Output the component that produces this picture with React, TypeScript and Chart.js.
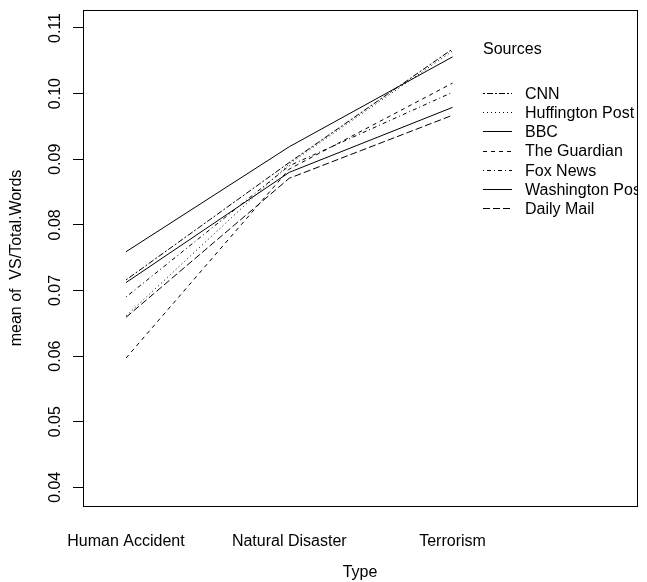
import React, { useEffect, useRef } from 'react';
import { Chart, registerables } from 'chart.js';

Chart.register(...registerables);

// ---- data ----
const categories = ['Human Accident', 'Natural Disaster', 'Terrorism'];
const categoryPositions = [1, 2, 3];
const sources = ['CNN', 'Huffington Post', 'BBC', 'The Guardian', 'Fox News', 'Washington Post', 'Daily Mail'];

const cnn = [0.0716, 0.0895, 0.1068];
const huffingtonPost = [0.0661, 0.0893, 0.1065];
const bbc = [0.0759, 0.0919, 0.1056];
const theGuardian = [0.0597, 0.0885, 0.1016];
const foxNews = [0.069, 0.089, 0.1002];
const washingtonPost = [0.0712, 0.088, 0.0979];
const dailyMail = [0.0659, 0.0871, 0.0967];

const yTickValues = [0.04, 0.05, 0.06, 0.07, 0.08, 0.09, 0.1, 0.11];
const yTickLabels = ['0.04', '0.05', '0.06', '0.07', '0.08', '0.09', '0.10', '0.11'];

const xTitle = 'Type';
const yTitle = 'mean of  VS/Total.Words';
const legendTitle = 'Sources';

// ---- styles ----
const seriesValues = [cnn, huffingtonPost, bbc, theGuardian, foxNews, washingtonPost, dailyMail];
const dashPatterns = [[2, 2, 6, 2], [1, 3], [], [4, 4], [1, 3, 4, 3], [], [7, 3]];

const FONT_FAMILY = "'Liberation Sans', Arial, Helvetica, sans-serif";
const font = { family: FONT_FAMILY, size: 16, lineHeight: 1.2 };

const boxAndLegend = {
  id: 'boxAndLegend',
  afterDatasetsDraw(chart: any) {
    const { ctx, chartArea } = chart;
    ctx.save();
    // legend (clipped to plot region, like R)
    ctx.save();
    ctx.beginPath();
    ctx.rect(chartArea.left, chartArea.top, chartArea.right - chartArea.left, chartArea.bottom - chartArea.top);
    ctx.clip();
    ctx.strokeStyle = '#000';
    ctx.lineWidth = 1;
    ctx.fillStyle = '#000';
    ctx.font = `16px ${FONT_FAMILY}`;
    ctx.textBaseline = 'alphabetic';
    ctx.textAlign = 'left';
    const lx = 483;
    ctx.fillText(legendTitle, lx, 54);
    chart.data.datasets.forEach((ds: any, i: number) => {
      const base = 98.7 + i * 19.2;
      const ly = Math.round(base - 5.7) + 0.5;
      ctx.beginPath();
      ctx.setLineDash(ds.borderDash || []);
      ctx.moveTo(lx, ly);
      ctx.lineTo(lx + 29, ly);
      ctx.stroke();
      ctx.setLineDash([]);
      ctx.fillText(ds.label, 525, base);
    });
    ctx.restore();

    // plot box
    ctx.strokeStyle = '#000';
    ctx.lineWidth = 1;
    ctx.setLineDash([]);
    ctx.strokeRect(chartArea.left + 0.5, chartArea.top + 0.5, chartArea.right - chartArea.left, chartArea.bottom - chartArea.top);
    ctx.restore();
  },
};

export default function App() {
  const ref = useRef<HTMLCanvasElement | null>(null);

  useEffect(() => {
    if (!ref.current) return;
    const datasets = sources.map((name, i) => ({
      label: name,
      data: categoryPositions.map((x, j) => ({ x, y: seriesValues[i][j] })),
      borderColor: '#000',
      backgroundColor: '#000',
      borderWidth: 1,
      borderDash: dashPatterns[i],
      pointRadius: 0,
      tension: 0,
      fill: false,
    }));

    const chart = new Chart(ref.current, {
      type: 'line',
      data: { datasets },
      plugins: [boxAndLegend],
      options: {
        responsive: false,
        animation: false,
        devicePixelRatio: 1,
        layout: { padding: { top: 10, right: 10, left: 0, bottom: 0 } },
        plugins: { legend: { display: false }, tooltip: { enabled: false } },
        scales: {
          x: {
            type: 'linear',
            min: 0.7366,
            max: 4.130,
            afterBuildTicks: (s: any) => {
              s.ticks = categoryPositions.map((v) => ({ value: v }));
            },
            ticks: {
              callback: (v: any) => categories[Math.round(Number(v)) - 1],
              font,
              color: '#000',
              padding: 18,
              autoSkip: false,
              maxRotation: 0,
              minRotation: 0,
            },
            grid: { display: false },
            border: { display: false },
            title: { display: true, text: xTitle, font, color: '#000', padding: 0 },
            afterFit: (s: any) => {
              s.height = 76;
              s.paddingLeft = 0;
              s.paddingRight = 0;
            },
          },
          y: {
            type: 'linear',
            min: 0.03715,
            max: 0.112743,
            afterBuildTicks: (s: any) => {
              s.ticks = yTickValues.map((v) => ({ value: v }));
            },
            ticks: {
              callback: (_v: any, i: number) => yTickLabels[i],
              font,
              color: '#000',
              minRotation: 90,
              maxRotation: 90,
              crossAlign: 'center',
              padding: 2,
              autoSkip: false,
            },
            grid: { drawOnChartArea: false, drawTicks: true, tickLength: 10, color: '#000', tickColor: '#000', lineWidth: 1 },
            border: { display: false },
            title: { display: true, text: yTitle, font, color: '#000', padding: { top: 7, bottom: 0 } },
            afterFit: (s: any) => {
              s.width = 83;
              s.paddingTop = 0;
              s.paddingBottom = 0;
            },
          },
        },
      } as any,
    });
    return () => chart.destroy();
  }, []);

  return (
    <div style={{ position: 'fixed', left: 0, top: 0, width: 647, height: 582, background: '#fff' }}>
      <canvas ref={ref} width={647} height={582} style={{ display: 'block' }} />
    </div>
  );
}
